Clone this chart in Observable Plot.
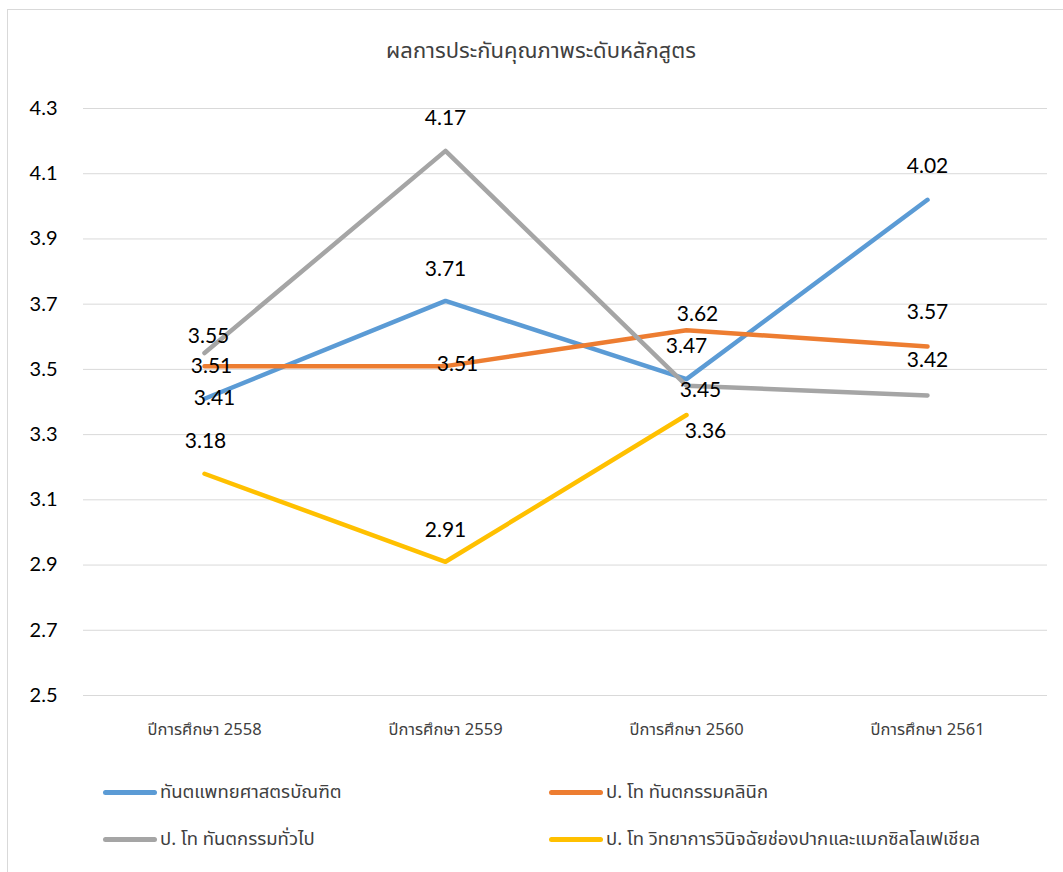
<!DOCTYPE html>
<html>
<head>
<meta charset="utf-8">
<script src="https://cdn.jsdelivr.net/npm/d3@7"></script>
<script src="https://cdn.jsdelivr.net/npm/@observablehq/plot@0.6"></script>
<style>
  html, body { margin: 0; padding: 0; background: #fff; overflow: hidden; }
  #wrap { position: relative; width: 1063px; height: 872px; }
  #border { position: absolute; left: 7px; top: 9px; width: 1070px; height: 880px; border: 1px solid #d9d9d9; box-sizing: border-box; }
  #title { position: absolute; left: 0; top: 39px; width: 1082px; text-align: center; font-family: "Noto Sans Thai", "Noto Sans", sans-serif; font-size: 22px; line-height: 26px; color: #404040; }
  #chart { position: absolute; left: 0; top: 0; }
  .leg { position: absolute; display: flex; align-items: center; font-family: "Noto Sans Thai", "Noto Sans", sans-serif; font-size: 18.5px; color: #404040; white-space: nowrap; }
  .sw { width: 54px; height: 5px; border-radius: 2.5px; margin-right: 3px; }
</style>
</head>
<body>
<div id="wrap">
  <div id="border"></div>
  <div id="title"></div>
  <div id="chart"></div>
  <div id="legend"></div>
</div>
<script>
const titleText = "ผลการประกันคุณภาพระดับหลักสูตร";
const years = ["ปีการศึกษา 2558", "ปีการศึกษา 2559", "ปีการศึกษา 2560", "ปีการศึกษา 2561"];
const seriesNames = [
  "ทันตแพทยศาสตรบัณฑิต",
  "ป. โท ทันตกรรมคลินิก",
  "ป. โท ทันตกรรมทั่วไป",
  "ป. โท วิทยาการวินิจฉัยช่องปากและแมกซิลโลเฟเชียล"
];
const dentistry = [3.41, 3.71, 3.47, 4.02];
const clinical = [3.51, 3.51, 3.62, 3.57];
const general = [3.55, 4.17, 3.45, 3.42];
const oralDiag = [3.18, 2.91, 3.36, null];
const yTicks = [2.5, 2.7, 2.9, 3.1, 3.3, 3.5, 3.7, 3.9, 4.1, 4.3];
const colors = ["#5B9BD5", "#ED7D31", "#A5A5A5", "#FFC000"];

// label placement (pixel offsets from each point), styling only
const labelOffsets = [
  [[10, 0], [0, -32], [0, -33], [0, -34]],
  [[7, 0], [12, -2], [11, -16], [0, -34]],
  [[4, -17], [0, -33], [14, 5], [0, -35]],
  [[1, -32], [0, -32], [19, 16], [0, 0]]
];

const seriesValues = [dentistry, clinical, general, oralDiag];
const rows = [];
seriesValues.forEach((vals, s) => {
  vals.forEach((v, i) => {
    if (v != null) rows.push({series: seriesNames[s], year: years[i], value: v, s, i});
  });
});

document.getElementById("title").textContent = titleText;

const W = 1063, H = 760;
const marks = [
  Plot.gridY(yTicks, {stroke: "#d9d9d9", strokeOpacity: 1, strokeWidth: 1}),
  Plot.axisY(yTicks, {tickSize: 0, tickPadding: 26, fontSize: 20, fontFamily: "Lato, 'Open Sans', sans-serif", fill: "#000", tickFormat: d => d.toFixed(1), label: null}),
  Plot.axisX({tickSize: 0, tickPadding: 28, fontSize: 16.5, fontFamily: "'Noto Sans Thai', 'Noto Sans', sans-serif", fill: "#404040", label: null})
];
seriesNames.forEach((name, s) => {
  marks.push(Plot.line(rows.filter(r => r.s === s), {
    x: "year", y: "value", stroke: colors[s], strokeWidth: 4.5,
    strokeLinecap: "round", strokeLinejoin: "round"
  }));
});
rows.forEach(r => {
  const [dx, dy] = labelOffsets[r.s][r.i];
  marks.push(Plot.text([r], {
    x: "year", y: "value", text: d => d.value.toFixed(2), dx, dy,
    fontSize: 21, fontFamily: "Lato, 'Open Sans', sans-serif", fill: "#000"
  }));
});

const chart = Plot.plot({
  width: W, height: H,
  marginLeft: 83, marginRight: 16, marginTop: 108, marginBottom: H - 695,
  x: {type: "point", domain: years, padding: 0.5, label: null},
  y: {domain: [2.5, 4.3], label: null},
  marks
});
document.getElementById("chart").appendChild(chart);

// legend
const legendPos = [[103, 792], [549, 792], [103, 839], [549, 839]];
const legend = document.getElementById("legend");
seriesNames.forEach((name, s) => {
  const el = document.createElement("div");
  el.className = "leg";
  el.style.left = legendPos[s][0] + "px";
  el.style.top = (legendPos[s][1] - 13) + "px";
  el.style.height = "26px";
  const sw = document.createElement("div");
  sw.className = "sw";
  sw.style.background = colors[s];
  const tx = document.createElement("span");
  tx.textContent = name;
  el.appendChild(sw);
  el.appendChild(tx);
  legend.appendChild(el);
});
</script>
</body>
</html>
